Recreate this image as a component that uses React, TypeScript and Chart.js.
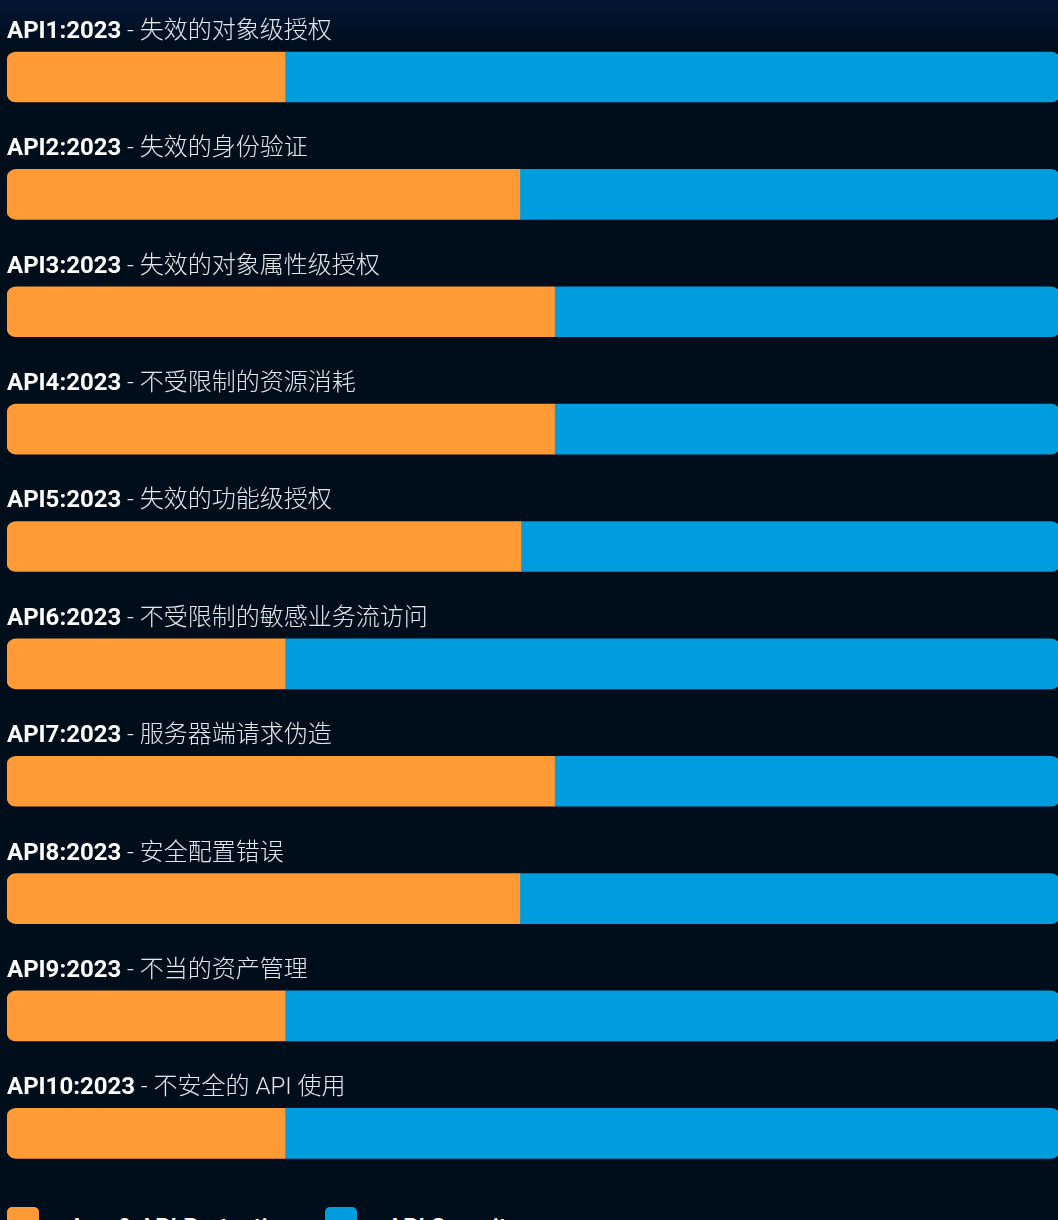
import React, { useEffect, useRef } from "react";
import { Chart, registerables } from "chart.js";

Chart.register(...registerables);

const codes = [
  "API1:2023",
  "API2:2023",
  "API3:2023",
  "API4:2023",
  "API5:2023",
  "API6:2023",
  "API7:2023",
  "API8:2023",
  "API9:2023",
  "API10:2023",
];

const names = [
  "失效的对象级授权",
  "失效的身份验证",
  "失效的对象属性级授权",
  "不受限制的资源消耗",
  "失效的功能级授权",
  "不受限制的敏感业务流访问",
  "服务器端请求伪造",
  "安全配置错误",
  "不当的资产管理",
  "不安全的 API 使用",
];

const protectValues = [26.4, 48.7, 52.0, 52.0, 48.8, 26.4, 52.0, 48.7, 26.4, 26.4];
const securityValues = [73.6, 51.3, 48.0, 48.0, 51.2, 73.6, 48.0, 51.3, 73.6, 73.6];

const seriesNames = ["App & API Protection", "API Security"];
const seriesColors = ["#FF9A35", "#009DDE"];

const labelPlugin = {
  id: "rowLabels",
  afterDatasetsDraw(chart: any) {
    const ctx = chart.ctx;
    const meta = chart.getDatasetMeta(0);
    const left = chart.chartArea.left;
    ctx.save();
    ctx.textBaseline = "alphabetic";
    ctx.textAlign = "left";
    meta.data.forEach((bar: any, i: number) => {
      const top = bar.y - bar.height / 2;
      const baseline = top - 14;
      ctx.font = 'bold 24px Roboto, "Noto Sans CJK SC", sans-serif';
      ctx.fillStyle = "#ffffff";
      ctx.fillText(codes[i], left, baseline);
      const w = ctx.measureText(codes[i]).width;
      ctx.font = '300 24px Roboto, "Noto Sans CJK SC", sans-serif';
      ctx.fillStyle = "#e4e8ee";
      ctx.fillText(" - " + names[i], left + w, baseline);
    });
    ctx.restore();
  },
};

export default function App() {
  const canvasRef = useRef<HTMLCanvasElement | null>(null);

  useEffect(() => {
    document.body.style.margin = "0";
    document.body.style.background = "#000d1a";
    document.body.style.overflow = "hidden";
    const canvas = canvasRef.current;
    if (!canvas) return;
    const chart = new Chart(canvas, {
      type: "bar",
      data: {
        labels: codes,
        datasets: [
          {
            label: seriesNames[0],
            data: protectValues,
            backgroundColor: seriesColors[0],
            borderSkipped: false,
            borderRadius: { topLeft: 9, bottomLeft: 9, topRight: 0, bottomRight: 0 },
            barThickness: 50,
          },
          {
            label: seriesNames[1],
            data: securityValues,
            backgroundColor: seriesColors[1],
            borderSkipped: false,
            borderRadius: { topLeft: 0, bottomLeft: 0, topRight: 9, bottomRight: 9 },
            barThickness: 50,
          },
        ],
      },
      options: {
        indexAxis: "y",
        animation: false,
        responsive: false,
        maintainAspectRatio: false,
        layout: { padding: { left: 7, right: 2, top: 18.3, bottom: 0 } },
        scales: {
          x: { stacked: true, min: 0, max: 100, display: false },
          y: { stacked: true, display: false, offset: true },
        },
        plugins: {
          legend: { display: false },
          tooltip: { enabled: false },
        },
      },
      plugins: [labelPlugin],
    });
    return () => chart.destroy();
  }, []);

  return (
    <div
      style={{
        width: 1058,
        height: 1220,
        overflow: "hidden",
        position: "relative",
        background: "linear-gradient(180deg, #031634 0px, #000e1e 42px, #000d1a 60px, #000d1a 100%)",
      }}
    >
      <canvas ref={canvasRef} width={1062} height={1192} style={{ display: "block", width: 1062, height: 1192 }} />
      <div
        style={{
          display: "flex",
          alignItems: "flex-start",
          marginTop: 14.5,
          paddingLeft: 7,
          fontFamily: 'Roboto, "Noto Sans CJK SC", sans-serif',
          fontSize: 24,
          fontWeight: 500,
          lineHeight: "32px",
          color: "#ffffff",
        }}
      >
        {seriesNames.map((n, i) => (
          <div key={n} style={{ display: "flex", alignItems: "flex-start", width: i === 0 ? 318 : "auto" }}>
            <span
              style={{
                display: "inline-block",
                width: 32,
                height: 32,
                borderRadius: 5,
                background: seriesColors[i],
                marginRight: 30,
              }}
            />
            <span style={{ display: "inline-block", paddingTop: 4 }}>{n}</span>
          </div>
        ))}
      </div>
    </div>
  );
}
